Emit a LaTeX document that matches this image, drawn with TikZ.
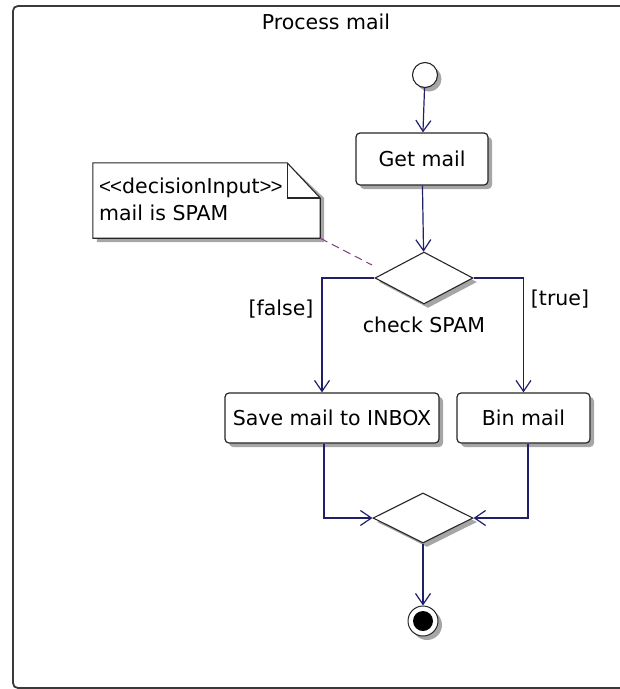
\documentclass[tikz,border=0pt]{standalone}
\usepackage{fontspec}
\setmainfont{DejaVu Sans}
\newfontfamily\narrowsym{Liberation Sans}
\usetikzlibrary{arrows.meta,shapes.geometric,shadows,calc}
\definecolor{flow}{HTML}{1F1F6B}
\definecolor{anchorline}{HTML}{7B3F7B}
\definecolor{framegray}{HTML}{3A3A3A}
\begin{document}
\begin{tikzpicture}[x=1pt,y=-1pt,
  font=\fontsize{20.5}{24}\selectfont,
  castshadow/.style={drop shadow={shadow xshift=4pt,shadow yshift=-4pt,fill=black!35,opacity=1}},
  action/.style={draw=black!85,line width=1.2pt,rounded corners=4pt,fill=white,castshadow,inner sep=0pt},
  decision/.style={diamond,draw=black!85,line width=1.1pt,fill=white,castshadow,inner sep=0pt},
  flowarrow/.style={draw=flow,line width=1.2pt,-{Straight Barb[length=11pt,width=15pt,line width=1.2pt]}},
  guard/.style={inner sep=0pt}]
\useasboundingbox (0,0) rectangle (620,689);
% activity frame (open towards the right edge)
\draw[framegray,line width=1.8pt] (620,6) -- (18,6) .. controls (15,6) and (13,8) .. (13,11)
  -- (13,683) .. controls (13,686) and (15,688) .. (18,688) -- (620,688);
\node (title) at (326,22) {Process mail};

% nodes
\node[circle,draw=black!85,line width=1.1pt,fill=white,castshadow,minimum size=25pt,inner sep=0pt] (start) at (425,75) {};
\node[action,minimum width=132pt,minimum height=52pt] (get) at (422,159) {Get mail};
\node[decision,minimum width=98pt,minimum height=52pt] (dec) at (424,278) {};
\node[guard] (declabel) at (424,325) {check SPAM};
\node[guard] (false) at (281,309) {[false]};
\node[guard] (true) at (560,299) {[true]};
\node[action,minimum width=214pt,minimum height=50pt] (save) at (332,418) {Save mail to INBOX};
\node[action,minimum width=133pt,minimum height=50pt] (bin) at (523.5,418) {Bin mail};
\node[decision,minimum width=100pt,minimum height=50pt] (merge) at (423,518) {};
\node[circle,draw=black!85,line width=1pt,fill=white,castshadow,minimum size=30pt,inner sep=0pt] (end) at (423,621) {};
\node[circle,fill=black,minimum size=20pt,inner sep=0pt] (endcore) at (end.center) {};

% note with folded corner
\node[minimum width=227pt,minimum height=75pt,inner sep=0pt] (note) at (206.5,200.5) {};
\fill[black!35] ($(note.north west)+(4,4)$) -- ($(note.north east)+(-29,4)$) -- ($(note.east)+(4,-2.5)$) -- ($(note.south east)+(4,4)$) -- ($(note.south west)+(4,4)$) -- cycle;
\draw[black!85,line width=1.1pt,fill=white] (note.north west) -- ($(note.north east)+(-33,0)$) coordinate (fold) -- ($(note.east)+(0,-2.5)$) coordinate (foldend) -- (note.south east) -- (note.south west) -- cycle;
\draw[black!85,line width=1.1pt] (fold) -- (fold |- foldend) -- (foldend);
\node[anchor=west,align=left,inner sep=0pt,font=\fontsize{20.5}{27}\selectfont] (notetext) at (99,199)
  {{\narrowsym<\kern-1pt<}decisionInput{\narrowsym>\kern-1pt>}\\mail is SPAM};

% connectors
\coordinate (notehook) at (372,265);
\draw[anchorline,line width=1pt,dash pattern=on 8pt off 5pt] (note.south east) -- (notehook);
\draw[flowarrow] (start) -- (get);
\draw[flowarrow] (get) -- (dec);
\draw[flowarrow] (dec.west) -| ([xshift=-10pt]save.north);
\draw[flowarrow] (dec.east) -| (bin.north);
\draw[flowarrow] ([xshift=-8pt]save.south) |- (merge.west);
\draw[flowarrow] ([xshift=4.5pt]bin.south) |- (merge.east);
\draw[flowarrow] (merge) -- (end);
\end{tikzpicture}
\end{document}
